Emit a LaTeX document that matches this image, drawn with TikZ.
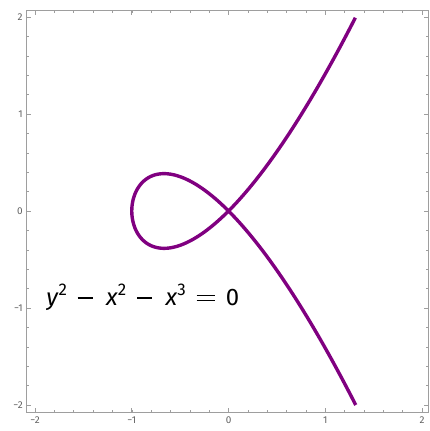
\documentclass[tikz,border=0pt]{standalone}
\usepackage{fontspec}
\setmainfont{Fira Sans}
\usepackage{tikz}
\definecolor{curvepurple}{rgb}{0.5, 0.0, 0.5}
\definecolor{framegray}{rgb}{0.62, 0.62, 0.62}
\definecolor{ticklabelgray}{rgb}{0.38, 0.38, 0.38}
\newcommand{\ticknum}[1]{\ifnum#1<0 −\the\numexpr-#1\relax\else#1\fi}
\newcommand{\eqminus}{\hspace{0.45em}\raisebox{0.3em}{\rule{0.64em}{0.055em}}\hspace{0.55em}}
\newcommand{\eqequals}{\hspace{0.45em}\raisebox{0.2em}{\rlap{\rule{0.78em}{0.055em}}\raisebox{0.22em}{\rule{0.78em}{0.055em}}}\hspace{0.45em}}
\newcommand{\sq}[1]{\raisebox{0.42em}{\fontsize{17}{19}\selectfont#1}}

\begin{document}
\begin{tikzpicture}[x=96.75bp, y=97bp]
    \useasboundingbox (-2.362, -2.268) rectangle (2.072, 2.175);
    \def\xmin{-2.09} \def\xmax{2.065}
    \def\ymin{-2.08} \def\ymax{2.07}

    \draw[framegray, line width=0.6bp] (\xmin, \ymin) rectangle (\xmax, \ymax);

    % minor ticks, every 0.2
    \foreach \k [evaluate=\k as \t using \k/5] in {-10,...,10} {
        \draw[framegray, line width=0.5bp] (\t, \ymin) -- ++(0, 0.025);
        \draw[framegray, line width=0.5bp] (\t, \ymax) -- ++(0, -0.025);
        \draw[framegray, line width=0.5bp] (\xmin, \t) -- ++(0.025, 0);
        \draw[framegray, line width=0.5bp] (\xmax, \t) -- ++(-0.025, 0);
    }
    % major ticks and labels
    \foreach \i in {-2,...,2} {
        \draw[framegray, line width=0.6bp] (\i, \ymin) -- ++(0, 0.045);
        \draw[framegray, line width=0.6bp] (\i, \ymax) -- ++(0, -0.045);
        \draw[framegray, line width=0.6bp] (\xmin, \i) -- ++(0.045, 0);
        \draw[framegray, line width=0.6bp] (\xmax, \i) -- ++(-0.045, 0);
        \node(xlab-\i)[
            text=ticklabelgray,
            font=\fontsize{10}{12}\selectfont,
            anchor=north,
            inner sep=1.5bp
        ] at (\i, \ymin-0.02) {\ticknum{\i}};
        \node(ylab-\i)[
            text=ticklabelgray,
            font=\fontsize{10}{12}\selectfont,
            anchor=east,
            inner sep=1.5bp
        ] at (\xmin-0.02, \i) {\ticknum{\i}};
    }

    % the nodal cubic, x = t^2-1, y = t^3-t
    \draw[curvepurple, line width=3.4bp, line join=round]
        plot[domain=-1.5214:1.5214, samples=240, smooth, variable=\t]
        ({\t*\t-1}, {\t*\t*\t-\t});

    \node(eqn)[
        anchor=base west,
        font=\fontsize{24}{28}\selectfont,
        inner sep=0pt
    ] at (-1.886, -0.979)
        {\textit{y}\sq{2}\eqminus\textit{x}\sq{2}\eqminus\textit{x}\sq{3}\eqequals 0};
\end{tikzpicture}
\end{document}
